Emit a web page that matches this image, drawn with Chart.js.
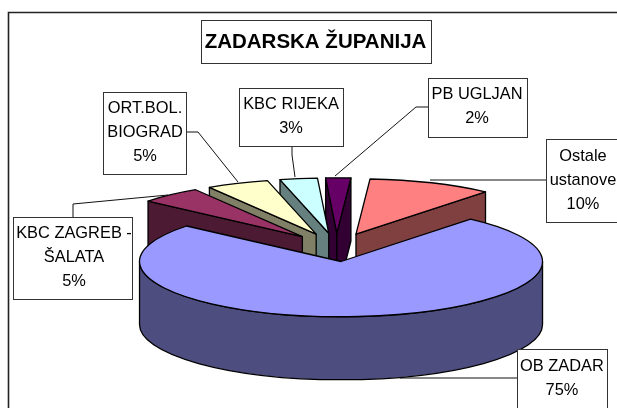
<!DOCTYPE html>
<html>
<head>
<meta charset="utf-8">
<style>
html,body{margin:0;padding:0;background:#fff;overflow:hidden}
#wrap{position:absolute;left:0;top:0;width:617px;height:408px}
</style>
<script src="https://cdn.jsdelivr.net/npm/chart.js@4"></script>
</head>
<body>
<div id="wrap"><canvas id="c" width="617" height="408"></canvas></div>
<script>
const chartTitle = 'ZADARSKA ŽUPANIJA';
const categories = ['OB ZADAR', 'KBC ZAGREB - ŠALATA', 'ORT.BOL. BIOGRAD', 'KBC RIJEKA', 'PB UGLJAN', 'Ostale ustanove'];
const categoryLines = [['OB ZADAR'], ['KBC ZAGREB -', 'ŠALATA'], ['ORT.BOL.', 'BIOGRAD'], ['KBC RIJEKA'], ['PB UGLJAN'], ['Ostale', 'ustanove']];
const values = [75, 5, 5, 3, 2, 10];
const topColors = ['#9999FF', '#993366', '#FFFFCC', '#CCFFFF', '#660066', '#FF8080'];
const sideColors = ['#4D4D80', '#4D1A33', '#808066', '#668080', '#330033', '#804040'];

// Layout of the label call-outs (not data)
const labelBoxes = [
  {x: 517.5, y: 349.5, w: 90, h: 80, tx: 562, ty: 366, leader: [[517, 378], [400, 378]]},
  {x: 13.5, y: 217.5, w: 119, h: 82, tx: 74, ty: 233, leader: [[73, 217], [73, 204], [168, 195]]},
  {x: 103.5, y: 92.5, w: 83, h: 82, tx: 145, ty: 108, leader: [[186, 132], [198, 132], [238, 182]]},
  {x: 239.5, y: 88.5, w: 104, h: 58, tx: 291, ty: 104, leader: [[292, 146], [292, 155], [295, 177]]},
  {x: 428.5, y: 78.5, w: 99, h: 59, tx: 477, ty: 94, leader: [[428, 107], [416, 107], [335, 176]]},
  {x: 546.5, y: 139.5, w: 90, h: 83, tx: 583, ty: 156, leader: [[546, 180], [430, 180]]}
];
const lineStep = 24;
const labelFont = '16.4px "Liberation Sans", Arial, sans-serif';
const pieRadius = 201.5;
const tilt = 0.274;       // vertical squash of the pie
const depth = 63;         // thickness of the pie
const explode = 52;       // explosion of each slice, before the tilt
const pieShiftX = 21;     // horizontal shift of the pie in the plot area
const frameX = 8.5, frameY = 12.5;

const pie3d = {
  id: 'pie3d',
  beforeDraw(chart) {
    const ctx = chart.ctx;
    ctx.save();
    ctx.fillStyle = '#fff';
    ctx.fillRect(0, 0, chart.width, chart.height);
    ctx.strokeStyle = '#222';
    ctx.lineWidth = 1.6;
    ctx.beginPath();
    ctx.moveTo(frameX, chart.height + 2);
    ctx.lineTo(frameX, frameY);
    ctx.lineTo(chart.width + 2, frameY);
    ctx.stroke();
    // title box
    const tb = chart.titleBlock;
    const cx = (tb.left + tb.right) / 2;
    ctx.strokeStyle = '#333';
    ctx.lineWidth = 1;
    ctx.strokeRect(Math.round(cx - 115) + 0.5, 20.5, 230, 43);
    ctx.restore();
  },
  beforeDatasetsDraw(chart) {
    const ctx = chart.ctx;
    const arcs = chart.getDatasetMeta(0).data.map((a, i) => {
      const mid = (a.startAngle + a.endAngle) / 2;
      return {
        i,
        s: a.startAngle,
        e: a.endAngle,
        r: a.outerRadius,
        x: a.x + pieShiftX + Math.cos(mid) * explode,
        y: a.y + Math.sin(mid) * explode * tilt
      };
    }).sort((p, q) => p.y - q.y);
    ctx.save();
    ctx.lineWidth = 1.3;
    ctx.lineJoin = 'round';
    ctx.strokeStyle = '#000';
    arcs.forEach(p => {
      const px = t => p.x + p.r * Math.cos(t);
      const py = t => p.y + p.r * tilt * Math.sin(t);
      ctx.fillStyle = sideColors[p.i];
      const wall = t => {
        ctx.beginPath();
        ctx.moveTo(p.x, p.y);
        ctx.lineTo(px(t), py(t));
        ctx.lineTo(px(t), py(t) + depth);
        ctx.lineTo(p.x, p.y + depth);
        ctx.closePath();
        ctx.fill();
        ctx.stroke();
      };
      if (Math.cos(p.s) < 0 && p.e - p.s < Math.PI) wall(p.s);
      if (Math.cos(p.e) > 0 && p.e - p.s < Math.PI) wall(p.e);
      const a = Math.max(p.s, 0), b = Math.min(p.e, Math.PI);
      if (a < b) {
        ctx.beginPath();
        ctx.ellipse(p.x, p.y, p.r, p.r * tilt, 0, a, b);
        ctx.lineTo(px(b), py(b) + depth);
        ctx.ellipse(p.x, p.y + depth, p.r, p.r * tilt, 0, b, a, true);
        ctx.closePath();
        ctx.fill();
        ctx.stroke();
      }
      ctx.fillStyle = topColors[p.i];
      ctx.beginPath();
      ctx.moveTo(p.x, p.y);
      ctx.ellipse(p.x, p.y, p.r, p.r * tilt, 0, p.s, p.e);
      ctx.closePath();
      ctx.fill();
      ctx.stroke();
    });
    ctx.restore();
    return false;
  },
  afterDraw(chart) {
    const ctx = chart.ctx;
    const total = values.reduce((a, b) => a + b, 0);
    ctx.save();
    labelBoxes.forEach((b, i) => {
      ctx.strokeStyle = '#111';
      ctx.lineWidth = 1;
      ctx.beginPath();
      b.leader.forEach((pt, j) => j ? ctx.lineTo(pt[0], pt[1]) : ctx.moveTo(pt[0], pt[1]));
      ctx.stroke();
      ctx.fillStyle = '#fff';
      ctx.fillRect(b.x, b.y, b.w, b.h);
      ctx.strokeStyle = '#333';
      ctx.strokeRect(b.x, b.y, b.w, b.h);
      ctx.fillStyle = '#000';
      ctx.font = labelFont;
      ctx.textAlign = 'center';
      ctx.textBaseline = 'middle';
      const lines = categoryLines[i].concat([Math.round(values[i] / total * 100) + '%']);
      lines.forEach((t, j) => ctx.fillText(t, b.tx, b.ty + j * lineStep));
    });
    ctx.restore();
  }
};

new Chart(document.getElementById('c'), {
  type: 'pie',
  data: {
    labels: categories,
    datasets: [{data: values, backgroundColor: topColors, borderWidth: 0}]
  },
  options: {
    responsive: false,
    animation: false,
    rotation: 40,
    radius: pieRadius,
    layout: {padding: {left: 14, right: 0, top: 0, bottom: 0}},
    plugins: {
      legend: {display: false},
      tooltip: {enabled: false},
      title: {
        display: true,
        text: chartTitle,
        color: '#000',
        font: {family: '"Liberation Sans", Arial, sans-serif', size: 20.5, weight: 'bold', lineHeight: 1.2},
        padding: {top: 30, bottom: 32}
      }
    }
  },
  plugins: [pie3d]
});
</script>
</body>
</html>
